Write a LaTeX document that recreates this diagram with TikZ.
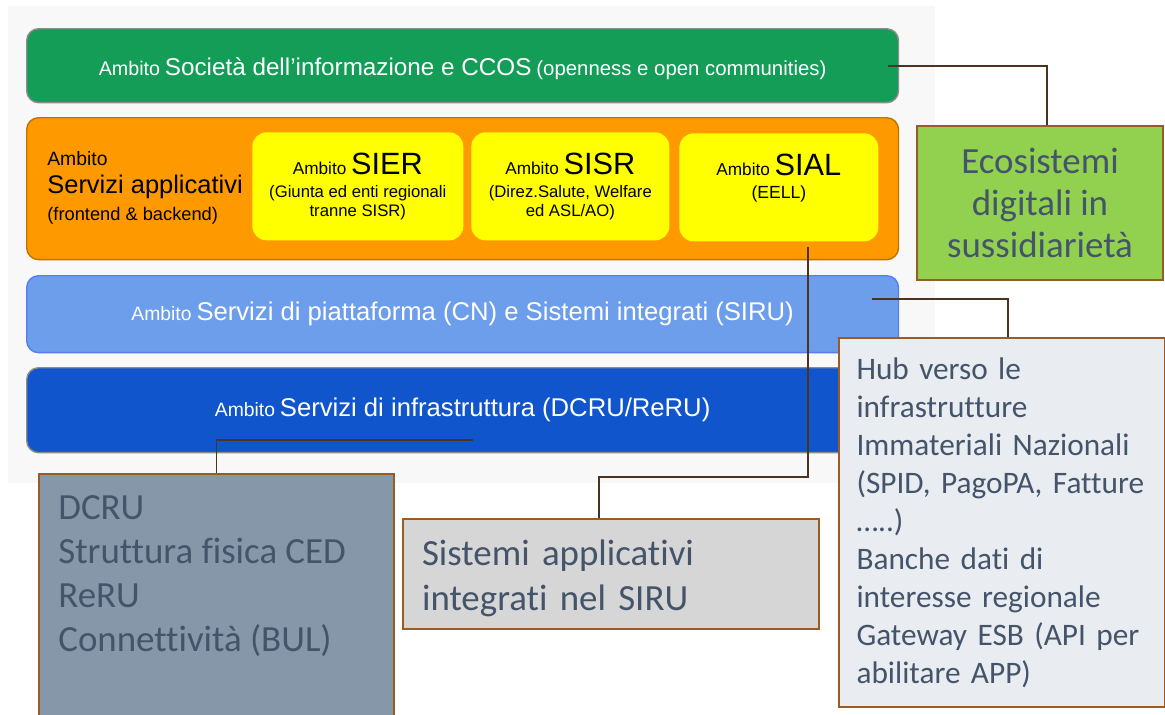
\documentclass[tikz,border=0pt]{standalone}
\usepackage{fontspec}
\setmainfont{Liberation Sans}
\newfontfamily\calibri[Ligatures=NoCommon]{Carlito}
\usetikzlibrary{positioning}

\definecolor{sfondo}{HTML}{F8F8F8}
\definecolor{verde}{HTML}{139D57}
\definecolor{arancio}{HTML}{FF9900}
\definecolor{giallo}{HTML}{FFFF00}
\definecolor{azzurro}{HTML}{6D9EEB}
\definecolor{blu}{HTML}{1155CC}
\definecolor{verdechiaro}{HTML}{92D050}
\definecolor{grigiohub}{HTML}{E9ECF0}
\definecolor{grigioblu}{HTML}{8597A8}
\definecolor{grigio}{HTML}{D6D6D6}
\definecolor{bordo}{HTML}{9C5B23}
\definecolor{linea}{HTML}{4A3420}
\definecolor{testo}{HTML}{44546A}

\newcommand{\amb}[1]{{\fontsize{#1}{#1}\selectfont Ambito}}

\begin{document}
\begin{tikzpicture}[x=0.02cm,y=-0.02cm,
  bar/.style={rounded corners=6.8pt, line width=0.8pt, anchor=north west,
    inner sep=0pt, align=center, minimum width=17.44cm},
  yel/.style={fill=giallo, rounded corners=8pt, anchor=north west,
    inner sep=0pt, align=center, text=black, minimum height=2.16cm},
  callout/.style={draw=bordo, line width=1.2pt, anchor=north west,
    inner ysep=0pt, text=testo},
  conn/.style={draw=linea, line width=0.8pt}]

% area
\useasboundingbox (0,0) rectangle (1165,714);
\clip (0,0) rectangle (1165,714);
\fill[sfondo] (8,6) rectangle (935,483);

% livelli
\node[bar, fill=verde, draw=black!45, text=white, minimum height=1.48cm] (soc) at (26,28)
  {\rule{0pt}{13.5pt}\amb{11.2} {\fontsize{13.8}{16}\selectfont Società dell’informazione e CCOS}
   {\fontsize{11.6}{14}\selectfont (openness e open communities)}};
\node[bar, fill=arancio, draw=arancio!75!black, minimum height=2.84cm] (app) at (26,117) {};
\node[anchor=west, align=left, inner sep=0pt, font=\fontsize{11}{15.5}\selectfont]
  (apptxt) at (47,188)
  {Ambito\\{\fontsize{14.5}{17}\selectfont Servizi applicativi}\\{\fontsize{10.4}{13}\selectfont (frontend \& backend)}};
\node[bar, fill=azzurro, draw=azzurro!80!blue, text=white, minimum height=1.54cm] (cn) at (26,275)
  {\amb{11} {\fontsize{14.6}{17}\selectfont Servizi di piattaforma (CN) e Sistemi integrati (SIRU)}};
\node[bar, fill=blu, draw=black!45, text=white, minimum height=1.70cm] (infra) at (26,367)
  {\amb{11} {\fontsize{14.6}{17}\selectfont Servizi di infrastruttura (DCRU/ReRU)}};

% ambiti applicativi
\node[yel, minimum width=4.22cm, font=\fontsize{9.5}{11}\selectfont] (sier) at (252,132)
  {\amb{9.8} {\fontsize{17.5}{20}\selectfont SIER}\\[2pt](Giunta ed enti regionali\\tranne SISR)};
\node[yel, minimum width=3.96cm, font=\fontsize{9.5}{11}\selectfont] (sisr) at (471,132)
  {\amb{9.8} {\fontsize{17.5}{20}\selectfont SISR}\\[2pt](Direz.Salute, Welfare\\ed ASL/AO)};
\node[yel, minimum width=3.98cm, font=\fontsize{9.5}{11}\selectfont] (sial) at (679,133)
  {\amb{9.8} {\fontsize{17.5}{20}\selectfont SIAL}\\[2pt]{\fontsize{10}{11}\selectfont (EELL)}\\[-2pt]\strut};

% note
\node[callout, fill=verdechiaro, minimum width=4.92cm, minimum height=3.08cm, align=center,
  font=\calibri\fontsize{21}{24}\selectfont] (eco) at (916,125)
  {Ecosistemi\\digitali in\\sussidiarietà};
\node[callout, fill=grigiohub, minimum height=7.38cm, text width=5.82cm, inner xsep=0.35cm,
  align=left, font=\calibri\fontsize{17.8}{21.6}\selectfont] (hub) at (838,337)
  {Hub verso le\\infrastrutture\\Immateriali Nazionali\\(SPID, PagoPA, Fatture\\…..)\\Banche dati di\\interesse regionale\\Gateway ESB (API per\\abilitare APP)};
\node[callout, fill=grigioblu, minimum width=7.10cm, minimum height=5.14cm] (dcru) at (38,473) {};
\node[anchor=north west, align=left, inner sep=0pt, text=testo,
  font=\calibri\fontsize{21}{25}\selectfont] (dcrutxt) at (58,495)
  {DCRU\\Struttura fisica CED\\ReRU\\Connettività (BUL)};
\node[callout, fill=grigio, minimum height=2.20cm, text width=7.56cm, inner xsep=0.38cm,
  align=left, font=\calibri\fontsize{21}{25.5}\selectfont] (sis) at (402,518)
  {\rule{0pt}{19.2pt}Sistemi applicativi\\integrati nel SIRU};

% collegamenti
\coordinate (c1) at (888,66);
\coordinate (c2) at (872,299);
\coordinate (c3) at (808,247);
\coordinate (c4) at (473,440);
\draw[conn] (c1) -| ([xshift=0.14cm]eco.north);
\draw[conn] (c2) -| ([xshift=0.12cm]hub.north);
\draw[conn] (c3) -- ++(0,230) -| ([xshift=-0.24cm]sis.north);
\draw[conn] (c4) -| (dcru.north);
\end{tikzpicture}
\end{document}
